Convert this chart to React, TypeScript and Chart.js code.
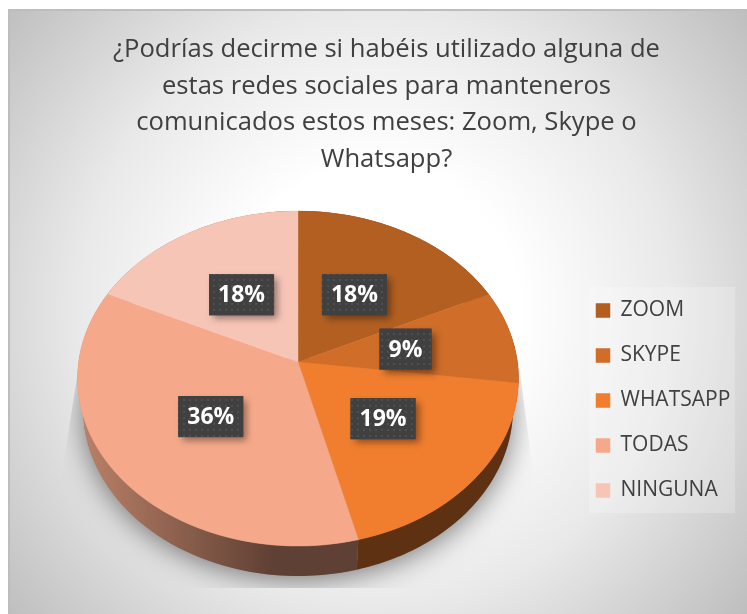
import React, { useEffect, useRef } from "react";
import { Chart, registerables } from "chart.js";

Chart.register(...registerables);

const categories = ["ZOOM", "SKYPE", "WHATSAPP", "TODAS", "NINGUNA"];
const values = [18, 9, 19, 36, 18];
const titleLines = [
  "¿Podrías decirme si habéis utilizado alguna de",
  "estas redes sociales para manteneros",
  "comunicados estos meses: Zoom, Skype o",
  "Whatsapp?",
];
const topColors = ["#b35f21", "#cf6d29", "#f07e2e", "#f6a98a", "#f7c5b6"];
const sideColors = ["#5e3112", "#5e3112", "#5e3112", "#5f4034", "#6e5045"];

const FONT = '"Open Sans", sans-serif';
// Perspective of the pie's top face (canvas pixels)
const P = { cx: 290, cy: 354, a: 165.9, b: -0.0985, c: 219.4, depth: 30, shrink: 0.975 };

function project(theta: number, f = 1) {
  const u = f * Math.sin(theta);
  const v = -f * Math.cos(theta);
  const d = 1 + P.b * v;
  return { x: P.cx + (P.c * u) / d, y: P.cy + (P.a * v) / d, X: (P.c * u) / d, Y: (P.a * v) / d };
}
const rim = (theta: number) => {
  const p = project(theta);
  return { x: P.cx + p.X * P.shrink, y: P.cy + p.Y + P.depth };
};

function dotPattern(ctx: CanvasRenderingContext2D) {
  const t = document.createElement("canvas");
  t.width = 6;
  t.height = 6;
  const c = t.getContext("2d")!;
  c.fillStyle = "#404040";
  c.fillRect(0, 0, 6, 6);
  c.fillStyle = "#4f4f4f";
  c.fillRect(1, 1, 2, 2);
  return ctx.createPattern(t, "repeat")!;
}

const backdrop = {
  id: "backdrop",
  beforeDraw(chart: any) {
    const { ctx, width, height } = chart;
    const g = ctx.createRadialGradient(367, 302, 0, 367, 302, 480);
    g.addColorStop(0, "#ffffff");
    g.addColorStop(0.3, "#ffffff");
    g.addColorStop(0.62, "#e9e9e9");
    g.addColorStop(1, "#bebebe");
    ctx.save();
    ctx.fillStyle = g;
    ctx.fillRect(0, 1, width, height);
    ctx.fillStyle = "#bdbdbd";
    ctx.fillRect(0, 1, width, 2);
    ctx.fillRect(0, 1, 2, height);
    ctx.fillStyle = "rgba(255,255,255,0.22)";
    ctx.fillRect(581, 287 - 8, 146, 226);
    ctx.restore();
  },
};

const placeLegend = {
  id: "placeLegend",
  afterLayout(chart: any) {
    const l = chart.legend;
    const pad = l.options.labels.padding;
    const w = l.right - l.left;
    l.left = 588 - pad;
    l.right = l.left + w;
    l.top = 292 - pad;
    l.bottom = chart.height;
  },
};

const pie3d = {
  id: "pie3d",
  beforeDatasetsDraw(chart: any) {
    const { ctx, width } = chart;
    const arcs = chart.getDatasetMeta(0).data;
    const R = arcs[0].outerRadius;
    const ax = arcs[0].x;
    const ay = arcs[0].y;

    // Soft shadow under the pie, cut off the way the reference is
    ctx.save();
    ctx.beginPath();
    ctx.moveTo(72, 350);
    ctx.lineTo(54, 465);
    ctx.lineTo(54, 580);
    ctx.lineTo(528, 580);
    ctx.lineTo(526, 470);
    ctx.lineTo(510, 350);
    ctx.closePath();
    ctx.clip();
    ctx.shadowColor = "rgba(0,0,0,0.5)";
    ctx.shadowBlur = 28;
    ctx.shadowOffsetY = 4;
    ctx.fillStyle = "#888";
    ctx.beginPath();
    for (let i = 0; i <= 120; i++) {
      const p = rim((i / 120) * Math.PI * 2);
      i ? ctx.lineTo(p.x, p.y) : ctx.moveTo(p.x, p.y);
    }
    ctx.closePath();
    ctx.fill();
    ctx.restore();

    // Side wall, one band per slice
    const todasSide = ctx.createLinearGradient(78, 0, 265, 0);
    todasSide.addColorStop(0, "#b97f66");
    todasSide.addColorStop(1, sideColors[3]);
    arcs.forEach((arc: any, idx: number) => {
      const s = arc.startAngle + Math.PI / 2;
      const e = arc.endAngle + Math.PI / 2;
      const n = 60;
      ctx.beginPath();
      for (let i = 0; i <= n; i++) {
        const p = project(s + ((e - s) * i) / n);
        i ? ctx.lineTo(p.x, p.y) : ctx.moveTo(p.x, p.y);
      }
      for (let i = n; i >= 0; i--) {
        const p = rim(s + ((e - s) * i) / n);
        ctx.lineTo(p.x, p.y);
      }
      ctx.closePath();
      ctx.fillStyle = idx === 3 ? todasSide : sideColors[idx];
      ctx.fill();
    });

    // Top face: library arcs, redrawn row by row through the perspective
    const top = Math.floor(P.cy + (P.a * -1) / (1 - P.b));
    const bottom = Math.ceil(P.cy + P.a / (1 + P.b));
    for (let row = top; row <= bottom; row++) {
      const Y = row + 0.5 - P.cy;
      const v = Y / (P.a - P.b * Y);
      const d = 1 + P.b * v;
      const gx = P.c / (R * d);
      const gy = P.a / (R * d * d);
      ctx.save();
      ctx.beginPath();
      ctx.rect(0, row, width, 1);
      ctx.clip();
      ctx.setTransform(gx, 0, 0, gy, P.cx - ax * gx, row + 0.5 - (ay + R * v) * gy);
      arcs.forEach((arc: any) => arc.draw(ctx));
      ctx.restore();
    }

    // Percentage tags
    const pattern = dotPattern(ctx);
    arcs.forEach((arc: any, idx: number) => {
      const mid = (arc.startAngle + arc.endAngle) / 2 + Math.PI / 2;
      const p = project(mid, 0.5);
      const text = `${values[idx]}%`;
      ctx.save();
      ctx.font = `bold 23px ${FONT}`;
      const w = Math.round(ctx.measureText(text).width) + 18;
      const h = 41;
      ctx.shadowColor = "rgba(0,0,0,0.4)";
      ctx.shadowBlur = 7;
      ctx.shadowOffsetX = 4;
      ctx.shadowOffsetY = 4;
      ctx.fillStyle = "#404040";
      ctx.fillRect(p.x - w / 2, p.y - h / 2, w, h);
      ctx.shadowColor = "transparent";
      ctx.fillStyle = pattern;
      ctx.fillRect(p.x - w / 2, p.y - h / 2, w, h);
      ctx.fillStyle = "#ffffff";
      ctx.textAlign = "center";
      ctx.textBaseline = "middle";
      ctx.fillText(text, p.x, p.y + 1);
      ctx.restore();
    });
    return false;
  },
};

export default function App() {
  const ref = useRef<HTMLCanvasElement>(null);
  useEffect(() => {
    const chart = new Chart(ref.current!, {
      type: "pie",
      data: {
        labels: categories,
        datasets: [
          {
            data: values,
            backgroundColor: topColors,
            borderColor: topColors,
            borderWidth: 0.5,
          },
        ],
      },
      options: {
        responsive: false,
        animation: false,
        layout: { padding: { left: 18 } },
        plugins: {
          tooltip: { enabled: false },
          title: {
            display: true,
            text: titleLines,
            color: "#404040",
            font: { family: FONT, size: 25.6, weight: "normal", lineHeight: 1.42 },
            padding: { top: 24, bottom: 10 },
          },
          legend: {
            position: "right",
            align: "start",
            labels: {
              boxWidth: 14,
              boxHeight: 14,
              padding: 24,
              color: "#404040",
              font: { family: FONT, size: 21 },
            },
          },
        },
      },
      plugins: [backdrop, placeLegend, pie3d],
    } as any);
    return () => chart.destroy();
  }, []);
  return (
    <canvas
      ref={ref}
      width={739}
      height={606}
      style={{ position: "absolute", left: 8, top: 8, width: 739, height: 606, display: "block" }}
    />
  );
}
